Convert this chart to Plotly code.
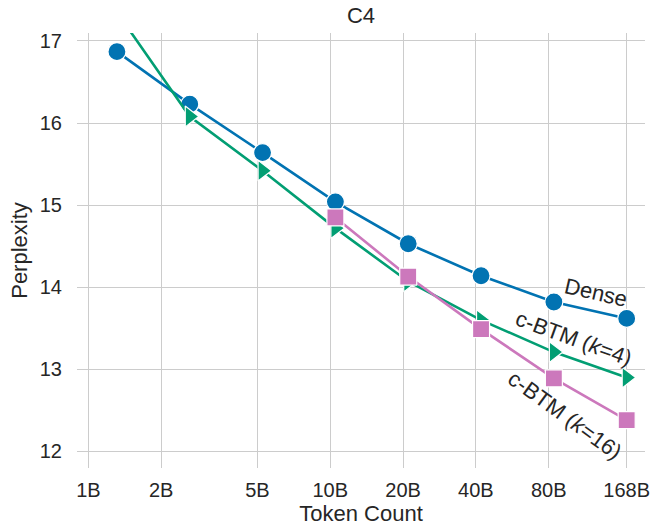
import plotly.graph_objects as go

# Token counts (billions) and C4 perplexity per model
tokens_b = [1.3125, 2.625, 5.25, 10.5, 21, 42, 84, 168]
dense_ppl = [16.87, 16.23, 15.64, 15.04, 14.53, 14.14, 13.82, 13.62]

cbtm4_tokens_b = [1.3125, 2.625, 5.25, 10.5, 21, 42, 84, 168]
cbtm4_ppl = [17.35, 16.08, 15.42, 14.72, 14.07, 13.60, 13.21, 12.90]

cbtm16_tokens_b = [10.5, 21, 42, 84, 168]
cbtm16_ppl = [14.85, 14.13, 13.49, 12.89, 12.38]

tick_vals_b = [1, 2, 5, 10, 20, 40, 80, 168]
tick_text = ["1B", "2B", "5B", "10B", "20B", "40B", "80B", "168B"]
y_ticks = [12, 13, 14, 15, 16, 17]

BLUE = "#0173b2"
GREEN = "#029e73"
PINK = "#cc78bc"
TEXT = "#262626"
GRID = "#cccccc"
FONT = "Liberation Sans, Arial, sans-serif"


def to_tokens(vals_b):
    return [v * 1e9 for v in vals_b]


fig = go.Figure()

fig.add_trace(go.Scatter(
    x=to_tokens(tokens_b), y=dense_ppl, mode="lines+markers", name="Dense",
    line=dict(color=BLUE, width=2.6),
    marker=dict(symbol="circle", size=18, color=BLUE, line=dict(color="white", width=1.2)),
))
fig.add_trace(go.Scatter(
    x=to_tokens(cbtm4_tokens_b), y=cbtm4_ppl, mode="lines+markers", name="c-BTM (k=4)",
    line=dict(color=GREEN, width=2.6),
    marker=dict(symbol="triangle-right", size=18, color=GREEN, line=dict(color="white", width=1.2)),
))
fig.add_trace(go.Scatter(
    x=to_tokens(cbtm16_tokens_b), y=cbtm16_ppl, mode="lines+markers", name="c-BTM (k=16)",
    line=dict(color=PINK, width=2.6),
    marker=dict(symbol="square", size=17, color=PINK, line=dict(color="white", width=1.2)),
))

# Series labels placed along the right end of each curve
labels = [
    ("Dense", 11.097, 13.93, 13),
    ("c-BTM (<i>k</i>=4)", 11.008, 13.38, 20),
    ("c-BTM (<i>k</i>=16)", 10.972, 12.44, 36),
]
for text, lx, ly, ang in labels:
    fig.add_annotation(
        x=lx, y=ly, xref="x", yref="y", text=text, showarrow=False,
        textangle=ang, font=dict(family=FONT, size=22, color=TEXT),
    )

fig.update_layout(
    width=650, height=527,
    margin=dict(l=77, r=5, t=33, b=59, autoexpand=False),
    paper_bgcolor="white", plot_bgcolor="white",
    showlegend=False,
    font=dict(family=FONT, size=20, color=TEXT),
    title=dict(text="C4", x=0.5, xref="paper", xanchor="center",
               y=1 - 15.5 / 527, yanchor="middle",
               font=dict(family=FONT, size=22, color=TEXT)),
)

fig.update_xaxes(
    type="log", range=[8.953, 11.301], automargin=False,
    tickvals=to_tokens(tick_vals_b), ticktext=tick_text,
    showgrid=True, gridcolor=GRID, gridwidth=1.3,
    zeroline=False, showline=False, ticks="",
    ticklabelstandoff=8, ticklabeloverflow="allow",
    tickfont=dict(family=FONT, size=20, color=TEXT),
    title=dict(text="Token Count", standoff=5, font=dict(family=FONT, size=22, color=TEXT)),
)
fig.update_yaxes(
    range=[11.798, 17.097], tickvals=y_ticks, automargin=False,
    showgrid=True, gridcolor=GRID, gridwidth=1.3,
    zeroline=False, showline=False, ticks="",
    ticklabelstandoff=14,
    tickfont=dict(family=FONT, size=20, color=TEXT),
    title=dict(text="Perplexity", standoff=6, font=dict(family=FONT, size=22, color=TEXT)),
)

fig.write_html("out.html")
